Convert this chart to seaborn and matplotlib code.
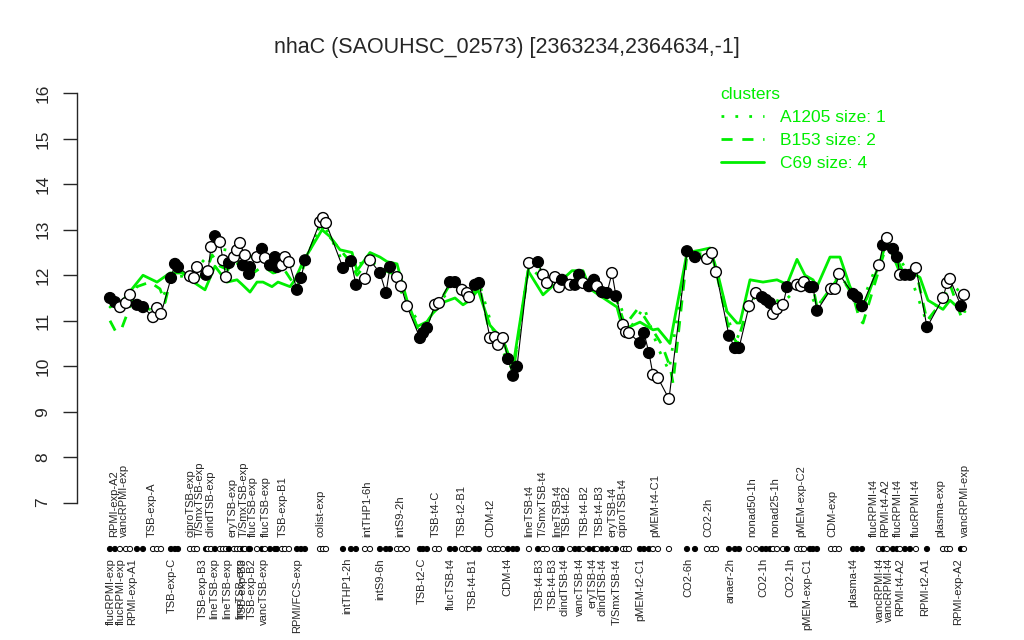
import matplotlib
matplotlib.use("Agg")
import matplotlib.pyplot as plt
import matplotlib.transforms as mtransforms
from matplotlib.lines import Line2D
import seaborn as sns
import pandas as pd

# condition positions (order along the x axis), expression values, filled marker flag
pos = [10, 15, 20, 26, 30, 37, 43, 53, 57, 61, 71, 75, 78, 90, 94, 97, 106, 108, 111, 115,
       120, 123, 126, 129, 134, 137, 140, 143, 145, 149, 150, 157, 162, 165, 170, 175, 177, 182, 185, 189,
       197, 201, 205, 220, 223, 226, 243, 251, 256, 265, 270, 280, 286, 290, 297, 301, 307, 320, 323, 327,
       335, 339, 350, 355, 362, 367, 369, 375, 379, 390, 395, 398, 403, 408, 413, 417, 429, 438, 443, 447,
       455, 459, 462, 470, 475, 479, 483, 489, 494, 497, 502, 507, 512, 516, 523, 526, 529, 540, 544, 549,
       553, 558, 569, 587, 595, 607, 612, 616, 629, 635, 639, 649, 656, 662, 666, 670, 673, 677, 683, 687,
       697, 701, 704, 710, 713, 717, 731, 735, 739, 753, 757, 762, 779, 783, 787, 793, 797, 800, 805, 810,
       816, 827, 843, 847, 850, 861, 864]
values = [11.50, 11.41, 11.30, 11.39, 11.57, 11.35, 11.30, 11.08, 11.28, 11.15, 11.94, 12.25, 12.18, 11.98, 11.94, 12.18, 12.01, 12.09, 12.62, 12.86,
          12.73, 12.33, 11.96, 12.27, 12.40, 12.55, 12.71, 12.22, 12.44, 12.03, 12.18, 12.40, 12.58, 12.38, 12.22, 12.40, 12.18, 12.22, 12.40, 12.29,
          11.68, 11.94, 12.33, 13.17, 13.26, 13.15, 12.16, 12.31, 11.79, 11.92, 12.33, 12.05, 11.61, 12.18, 11.96, 11.76, 11.32, 10.62, 10.73, 10.84,
          11.35, 11.39, 11.85, 11.85, 11.68, 11.61, 11.52, 11.79, 11.83, 10.62, 10.64, 10.47, 10.62, 10.16, 9.79, 9.99, 12.27, 12.29, 12.01, 11.83,
          11.96, 11.74, 11.90, 11.79, 11.79, 12.01, 11.83, 11.76, 11.90, 11.76, 11.63, 11.61, 12.05, 11.54, 10.91, 10.75, 10.73, 10.51, 10.73, 10.29,
          9.81, 9.74, 9.28, 12.53, 12.40, 12.36, 12.49, 12.07, 10.67, 10.40, 10.40, 11.32, 11.61, 11.52, 11.46, 11.39, 11.15, 11.26, 11.35, 11.74,
          11.79, 11.76, 11.85, 11.74, 11.74, 11.22, 11.70, 11.70, 12.03, 11.59, 11.52, 11.32, 12.22, 12.66, 12.82, 12.58, 12.40, 12.01, 12.01, 12.01,
          12.16, 10.86, 11.50, 11.83, 11.92, 11.32, 11.57]
filled = [1, 1, 0, 0, 0, 1, 1, 0, 0, 0, 1, 1, 1, 0, 0, 0, 1, 0, 0, 1,
          0, 0, 0, 1, 0, 0, 0, 1, 0, 1, 1, 0, 1, 0, 1, 1, 1, 0, 0, 0,
          1, 1, 1, 0, 0, 0, 1, 1, 1, 0, 0, 1, 1, 1, 0, 0, 0, 1, 1, 1,
          0, 0, 1, 1, 0, 0, 0, 1, 1, 0, 0, 0, 0, 1, 1, 1, 0, 1, 0, 0,
          0, 0, 1, 0, 1, 1, 0, 1, 1, 0, 1, 1, 0, 1, 0, 0, 0, 1, 1, 1,
          0, 0, 0, 1, 1, 0, 0, 0, 1, 1, 1, 0, 0, 1, 1, 1, 0, 0, 0, 1,
          0, 0, 0, 1, 1, 1, 0, 0, 0, 1, 1, 1, 0, 1, 0, 1, 1, 0, 1, 1,
          0, 1, 0, 0, 0, 1, 0]

# cluster profiles (green lines)
c69_pos = [10, 23, 43, 57, 70, 83, 90, 105, 115, 127, 137, 142, 150, 157, 163, 172, 178, 190, 195, 203,
           222, 230, 240, 252, 257, 270, 280, 287, 297, 307, 317, 327, 333, 345, 355, 363, 370, 378, 390, 403,
           413, 428, 443, 452, 462, 472, 483, 490, 500, 517, 523, 530, 540, 553, 558, 570, 587, 600, 610, 617,
           627, 637, 640, 650, 663, 677, 687, 697, 705, 713, 717, 730, 740, 750, 762, 767, 780, 787, 800, 813,
           820, 828, 843, 850, 860, 865]
c69 = [11.3, 11.45, 12.0, 11.85, 12.05, 12.05, 11.9, 11.68, 12.2, 11.85, 11.9, 11.8, 11.63, 11.85, 11.85, 11.75, 11.85, 11.75, 11.9, 12.3,
       13.0, 12.85, 12.56, 12.5, 12.1, 12.5, 12.4, 12.3, 12.25, 11.45, 10.87, 10.98, 11.17, 11.42, 11.5, 11.35, 11.45, 11.68, 10.9, 10.58,
       9.99, 12.1, 11.57, 11.75, 11.9, 12.1, 12.1, 11.7, 11.55, 11.3, 10.8, 10.87, 10.97, 10.8, 10.82, 10.5, 12.5, 12.55, 12.6, 12.1,
       11.2, 10.95, 10.95, 11.9, 11.85, 11.9, 11.8, 12.35, 12.0, 11.9, 11.75, 12.4, 12.4, 11.75, 11.3, 11.5, 12.3, 12.75, 12.05, 12.05,
       11.95, 11.45, 11.25, 11.45, 11.25, 11.2]
b153_pos = [10, 16, 22, 28, 37, 50, 60, 65, 71, 78, 90, 105, 112, 120, 130, 140, 150, 163, 173, 185,
            197, 205, 220, 235, 250, 257, 270, 285, 297, 307, 320, 335, 350, 362, 370, 379, 390, 403, 413, 429,
            443, 460, 475, 490, 505, 516, 525, 537, 543, 562, 570, 573, 587, 600, 612, 617, 629, 637, 649, 660,
            673, 687, 700, 713, 717, 732, 740, 753, 760, 763, 780, 787, 797, 805, 816, 827, 843, 850, 861, 864]
b153 = [11.0, 10.75, 10.85, 11.2, 11.75, 11.85, 11.7, 11.4, 11.95, 12.15, 11.9, 12.0, 12.45, 12.2, 12.1, 12.3, 12.0, 12.2, 12.05, 12.1,
        11.7, 12.3, 13.1, 12.7, 12.3, 12.0, 12.35, 12.1, 12.0, 11.4, 10.7, 11.25, 11.8, 11.6, 11.5, 11.8, 10.7, 10.6, 9.85, 12.2,
        11.9, 11.95, 11.9, 11.8, 11.65, 11.5, 10.9, 11.24, 11.13, 10.47, 9.99, 9.63, 12.45, 12.4, 12.45, 12.0, 10.8, 10.5, 11.4, 11.5,
        11.2, 11.75, 11.85, 11.75, 11.3, 11.75, 12.0, 11.55, 11.0, 10.95, 12.2, 12.7, 12.35, 12.0, 12.1, 11.0, 11.45, 11.8, 11.1, 11.15]
a1205_pos = [10, 30, 43, 57, 71, 90, 115, 140, 165, 190, 205, 222, 245, 270, 290, 307, 323, 339, 355, 369,
             379, 395, 413, 429, 460, 490, 516, 529, 544, 558, 569, 587, 612, 635, 656, 683, 704, 717, 739, 762,
             787, 810, 827, 850, 864]
a1205 = [11.4, 11.5, 11.3, 11.2, 11.95, 12.0, 12.6, 12.5, 12.3, 12.2, 12.3, 13.2, 12.2, 12.3, 12.1, 11.4, 10.8, 11.4, 11.8, 11.6,
         11.85, 10.65, 9.9, 12.25, 11.9, 11.8, 11.6, 10.8, 11.3, 10.4, 9.9, 12.5, 12.45, 10.5, 11.6, 11.4, 11.85, 11.3, 12.0, 11.4,
         12.8, 12.0, 10.95, 11.9, 11.5]

top_pos = [14, 24, 52, 90, 100, 110, 133, 144, 153, 166, 183, 220, 267, 300, 336, 362, 390, 429, 443, 457,
           467, 485, 500, 512, 522, 555, 608, 652, 675, 701, 732, 774, 785, 798, 816, 840, 865]
top_labels = ["RPMI-exp-A2", "vancRPMI-exp", "TSB-exp-A", "ciproTSB-exp", "T/SmxTSB-exp", "clindTSB-exp",
              "eryTSB-exp", "T/SmxTSB-exp", "flucTSB-exp", "flucTSB-exp", "TSB-exp-B1", "colist-exp",
              "intTHP1-6h", "intS9-2h", "TSB-t4-C", "TSB-t2-B1", "CDM-t2", "lineTSB-t4", "T/SmxTSB-t4",
              "lineTSB-t4", "TSB-t4-B2", "TSB-t4-B2", "TSB-t4-B3", "eryTSB-t4", "ciproTSB-t4", "pMEM-t4-C1",
              "CO2-2h", "nonad50-1h", "nonad25-1h", "pMEM-exp-C2", "CDM-exp", "flucRPMI-t4", "RPMI-t4-A2",
              "flucRPMI-t4", "flucRPMI-t4", "plasma-exp", "vancRPMI-exp"]
bottom_pos = [11, 21, 32, 72, 103, 114, 127, 140, 143, 152, 164, 197, 247, 280, 322, 351, 373, 407, 440, 453,
              465, 480, 492, 503, 517, 540, 588, 630, 663, 690, 707, 753, 780, 789, 800, 825, 858]
bottom_labels = ["flucRPMI-exp", "flucRPMI-exp", "RPMI-exp-A1", "TSB-exp-C", "TSB-exp-B3", "lineTSB-exp",
                 "lineTSB-exp", "lineTSB-exp", "TSB-exp-B3", "TSB-exp-B2", "vancTSB-exp", "RPMI/FCS-exp",
                 "intTHP1-2h", "intS9-6h", "TSB-t2-C", "flucTSB-t4", "TSB-t4-B1", "CDM-t4", "TSB-t4-B3",
                 "TSB-t4-B3", "clindTSB-t4", "vancTSB-t4", "eryTSB-t4", "clindTSB-t4", "T/SmxTSB-t4",
                 "pMEM-t2-C1", "CO2-6h", "anaer-2h", "CO2-1h", "CO2-1h", "pMEM-exp-C1", "plasma-t4",
                 "vancRPMI-t4", "vancRPMI-t4", "RPMI-t4-A2", "RPMI-t2-A1", "RPMI-exp-A2"]

title = "nhaC (SAOUHSC_02573) [2363234,2364634,-1]"
green = "#00ee00"

sns.set_style("ticks")
plt.rcParams['font.family'] = ['Liberation Sans', 'DejaVu Sans']

df = pd.DataFrame({"pos": pos, "value": values, "filled": filled})

fig = plt.figure(figsize=(10.24, 6.4), dpi=100)
ax = fig.add_axes([77 / 1024, 1 - 519 / 640, 918 / 1024, 442 / 640])

sns.lineplot(x=a1205_pos, y=a1205, color=green, lw=2.0, linestyle=(0, (1, 4)),
             estimator=None, sort=False, ax=ax)
sns.lineplot(x=b153_pos, y=b153, color=green, lw=2.0, linestyle=(0, (4, 3.5)),
             estimator=None, sort=False, ax=ax)
sns.lineplot(x=c69_pos, y=c69, color=green, lw=2.0, estimator=None, sort=False, ax=ax)
sns.lineplot(data=df, x="pos", y="value", color="black", lw=0.8, estimator=None, sort=False, ax=ax)
sns.scatterplot(data=df, x="pos", y="value", hue="filled", palette={1: "black", 0: "white"},
                edgecolor="black", linewidth=1.0, s=60, legend=False, zorder=3, ax=ax)

ax.set_xlim(-23, 895)
ax.set_ylim(6.64, 16.36)
ax.set_yticks(range(7, 17))
ax.set_xticks([])
ax.set_xlabel("")
ax.set_ylabel("")
for s in ["top", "right", "bottom"]:
    ax.spines[s].set_visible(False)
ax.spines["left"].set_bounds(7, 16)
ax.spines["left"].set_linewidth(1.0)
ax.tick_params(axis="y", length=10, width=1.0, pad=9, labelsize=12.5)
plt.setp(ax.get_yticklabels(), rotation=90, va="center")

# condition strip below the plot
blend = mtransforms.blended_transform_factory(ax.transData, fig.transFigure)
ax.scatter(pos, [91 / 640] * len(pos), s=14,
           c=["black" if f else "white" for f in filled], edgecolors="black",
           linewidths=0.7, transform=blend, clip_on=False)
for p, lab in zip(top_pos, top_labels):
    ax.text(p, 103 / 640, lab, rotation=90, ha="center", va="bottom",
            fontsize=8, transform=blend)
for p, lab in zip(bottom_pos, bottom_labels):
    ax.text(p, 82 / 640, lab, rotation=90, ha="center", va="top",
            fontsize=8, transform=blend)

handles = [Line2D([], [], color=green, lw=2.0, linestyle=(0, (1, 4))),
           Line2D([], [], color=green, lw=2.0, linestyle=(0, (4, 3.5))),
           Line2D([], [], color=green, lw=2.0)]
leg = fig.legend(handles, ["A1205 size: 1", "B153 size: 2", "C69 size: 4"],
                 title="clusters", loc="upper left", bbox_to_anchor=(712 / 1024, 1 - 78 / 640),
                 frameon=False, fontsize=12.5, title_fontsize=12.5, labelcolor=green,
                 handlelength=2.5, handletextpad=0.9, labelspacing=0.45, borderpad=0,
                 alignment="left")
leg.get_title().set_color(green)

fig.text(507 / 1024, 1 - 47 / 640, title, ha="center", va="center", fontsize=15.5)

fig.savefig("out.png", dpi=100)
